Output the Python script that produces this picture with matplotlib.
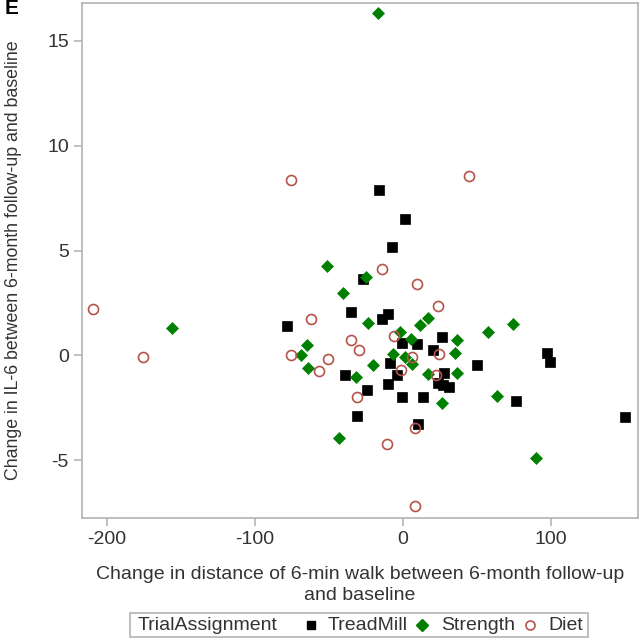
import matplotlib
matplotlib.use("Agg")
import matplotlib.pyplot as plt
from matplotlib.lines import Line2D
from matplotlib.patches import Rectangle

plt.rcParams['font.family'] = ['Liberation Sans', 'DejaVu Sans']
plt.rcParams['axes.unicode_minus'] = False

# TreadMill (black squares)
tread_x = [150.4, 97.5, 99.8, 76.4, 50.0, -16.1, 1.4, -7.6, -26.9, -35.0, -9.8, -13.9,
           -78.5, 26.6, -0.8, 9.7, 20.5, -8.7, -39.1, -3.8, 27.8, -9.8, 23.9, 27.3,
           31.1, -0.8, 13.8, -24.0, -31.2, 10.4]
tread_y = [-2.94, 0.1, -0.3, -2.15, -0.44, 7.88, 6.49, 5.15, 3.64, 2.06, 1.97, 1.74,
           1.4, 0.9, 0.58, 0.55, 0.26, -0.37, -0.93, -0.93, -0.82, -1.36, -1.3, -1.4,
           -1.51, -1.96, -1.96, -1.64, -2.91, -3.26]

# Strength (green diamonds)
strength_x = [-16.6, -51.5, -24.9, -40.6, -23.4, 17.2, 11.8, 57.5, 74.5, -1.8, 5.3, 36.3,
              35.2, -65.0, -69.0, -63.9, -20.4, -6.5, 1.4, 6.3, 17.0, 36.3, -31.7, 26.2,
              63.7, -42.9, 89.9, -156.0]
strength_y = [16.3, 4.28, 3.72, 2.96, 1.56, 1.8, 1.43, 1.1, 1.5, 1.13, 0.8, 0.74,
              0.1, 0.5, 0.0, -0.61, -0.45, 0.05, -0.06, -0.42, -0.9, -0.85, -1.01, -2.25,
              -1.93, -3.94, -4.88, 1.3]

# Diet (open circles)
diet_x = [-209.7, -176.0, -75.6, 44.8, -13.9, 9.3, 23.9, -62.3, -35.3, -29.6, -75.8,
          -50.4, -56.4, -5.8, 6.5, 24.6, -1.5, 22.3, -31.2, -10.9, 8.2, 8.2]
diet_y = [2.2, -0.06, 8.36, 8.55, 4.1, 3.39, 2.37, 1.74, 0.74, 0.26, 0.02,
          -0.18, -0.72, 0.93, -0.08, 0.08, -0.69, -0.93, -1.96, -4.21, -3.47, -7.17]

x_ticks = [-200, -100, 0, 100]
y_ticks = [-5, 0, 5, 10, 15]
groups = ["TreadMill", "Strength", "Diet"]

W, H = 641, 640
fig = plt.figure(figsize=(W / 100, H / 100), dpi=100)
ax = fig.add_axes([82 / W, 1 - 518 / H, (638 - 82) / W, (518 - 3) / H])

GREEN = '#008000'
DIET = '#B5544A'
GREY = '#B4B4B4'
TXT = '#333333'
FS = 14

ax.plot(tread_x, tread_y, ls='none', marker='s', ms=7.0, mfc='black', mec='black', mew=0.5)
ax.plot(strength_x, strength_y, ls='none', marker='D', ms=6.4, mfc=GREEN, mec=GREEN, mew=0.5)
ax.plot(diet_x, diet_y, ls='none', marker='o', ms=7.2, mfc='none', mec=DIET, mew=1.2)

ax.set_xlim(-217, 159)
ax.set_ylim(-7.75, 16.8)
ax.set_xticks(x_ticks)
ax.set_yticks(y_ticks)
for s in ax.spines.values():
    s.set_color(GREY)
    s.set_linewidth(1.2)
ax.tick_params(axis='both', colors=GREY, labelcolor=TXT, labelsize=FS, length=6, width=1.2)

ax.set_xlabel("Change in distance of 6-min walk between 6-month follow-up\nand baseline",
              fontsize=FS, color=TXT, labelpad=13, linespacing=1.25)
ax.yaxis.set_label_coords(-(82 - 14) / (638 - 82), 0.49)
ax.set_ylabel("Change in IL-6 between 6-month follow-up and baseline",
              fontsize=12.8, color=TXT, va='center')

fig.text(5 / W, 1 - 9 / H, "E", fontsize=15, fontweight='bold', ha='left', va='center', color='black')

# Legend box (manual)
def fx(px):
    return px / W

def fy(py):
    return 1 - py / H

fig.add_artist(Rectangle((fx(130), fy(637)), (588 - 130) / W, (637 - 613) / H,
                         transform=fig.transFigure, fill=False, edgecolor=GREY, lw=1.2))
ly = fy(625)
fig.text(fx(138), ly, "TrialAssignment", fontsize=FS, color=TXT, ha='left', va='center')
fig.add_artist(Line2D([fx(311)], [ly], marker='s', ms=6.0, mfc='black', mec='black', ls='none',
                      transform=fig.transFigure))
fig.text(fx(328), ly, groups[0], fontsize=FS, color=TXT, ha='left', va='center')
fig.add_artist(Line2D([fx(422)], [ly], marker='D', ms=6.0, mfc=GREEN, mec=GREEN, ls='none',
                      transform=fig.transFigure))
fig.text(fx(441), ly, groups[1], fontsize=FS, color=TXT, ha='left', va='center')
fig.add_artist(Line2D([fx(530)], [ly], marker='o', ms=6.5, mfc='none', mec=DIET, mew=1.2, ls='none',
                      transform=fig.transFigure))
fig.text(fx(548), ly, groups[2], fontsize=FS, color=TXT, ha='left', va='center')

fig.savefig("out.png", dpi=100)
